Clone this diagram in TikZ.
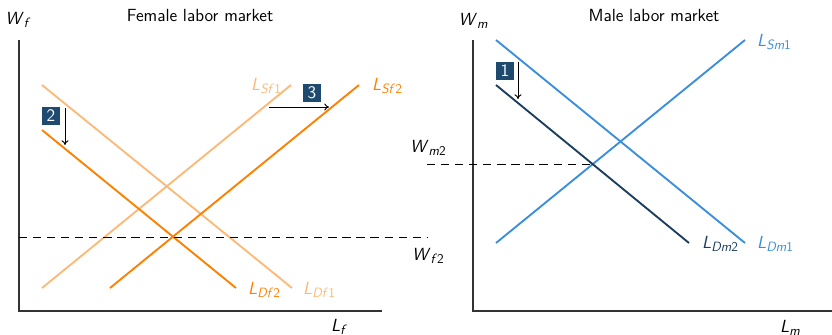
\documentclass[tikz,border=0pt]{standalone}
\usetikzlibrary{arrows.meta}
\definecolor{oLight}{HTML}{FDB978}
\definecolor{oDark}{HTML}{FF8000}
\definecolor{bLight}{HTML}{3A8EDB}
\definecolor{bDark}{HTML}{1B3D5E}
\definecolor{boxc}{HTML}{1F4A70}
\definecolor{axc}{HTML}{333333}
\newcommand{\vlab}[2]{\textit{#1}\raisebox{-0.45ex}{\fontsize{11.5}{12}\selectfont #2}}
\begin{document}
\begin{tikzpicture}[x=0.03cm,y=-0.03cm,
  every node/.style={font=\sffamily\fontsize{15}{17}\selectfont, inner sep=0pt},
  axis/.style={draw=axc, line width=0.9pt},
  curve/.style={line width=1.6pt},
  shiftarr/.style={-{To[length=4pt,width=6pt]}, line width=0.8pt},
  dashline/.style={dashed, dash pattern=on 7pt off 5pt, line width=0.8pt},
  numbox/.style={fill=boxc, text=white, minimum size=0.56cm, font=\sffamily\fontsize{15}{17}\selectfont},
  ]
\useasboundingbox (0,0) rectangle (832,335);
% ---------- female panel ----------
\coordinate (fO) at (19,311);
\coordinate (fY) at (19,40);
\coordinate (fX) at (382,311);
\draw[axis] (fY) -- (fO) -- (fX);
\node (fWf) at (18,20) {\vlab{W}{\textit{f}}};
\node (fLf) at (339,327) {\vlab{L}{\textit{f}}};
\node (ftitle) at (200,15) {Female labor market};
\coordinate (d1a) at (42,85);  \coordinate (d1b) at (292,288);
\coordinate (d2a) at (42,130); \coordinate (d2b) at (236,288);
\coordinate (s1a) at (42,288); \coordinate (s1b) at (291,85);
\coordinate (s2a) at (110,288);\coordinate (s2b) at (359,85);
\draw[curve, oLight] (d1a) -- (d1b);
\draw[curve, oLight] (s1a) -- (s1b);
\draw[curve, oDark] (d2a) -- (d2b);
\draw[curve, oDark] (s2a) -- (s2b);
\coordinate (wfl) at (19,237); \coordinate (wfr) at (428,237);
\draw[dashline] (wfl) -- (wfr);
\node[oLight] (lsf1) at (266,86) {\vlab{L}{\textit{Sf}1}};
\node[oDark] (lsf2) at (387,86) {\vlab{L}{\textit{Sf}2}};
\node[oDark] (ldf2) at (264,290) {\vlab{L}{\textit{Df}2}};
\node[oLight] (ldf1) at (319,290) {\vlab{L}{\textit{Df}1}};
\node[numbox] (b2) at (51,116) {2};
\coordinate (a2s) at (65,108); \coordinate (a2e) at (65,145);
\draw[shiftarr] (a2s) -- (a2e);
\node[numbox] (b3) at (312,93) {3};
\coordinate (a3s) at (269,107); \coordinate (a3e) at (329,107);
\draw[shiftarr] (a3s) -- (a3e);
% ---------- male panel ----------
\coordinate (mO) at (473,311);
\coordinate (mY) at (473,40);
\coordinate (mX) at (832,311);
\draw[axis] (mY) -- (mO) -- (mX);
\node (mWm) at (473,21) {\vlab{W}{\textit{m}}};
\node (mLm) at (790,328) {\vlab{L}{\textit{m}}};
\node (mtitle) at (654,15) {Male labor market};
\coordinate (ms1a) at (496,243); \coordinate (ms1b) at (745,40);
\coordinate (md1a) at (496,40);  \coordinate (md1b) at (745,243);
\coordinate (md2a) at (496,85);  \coordinate (md2b) at (689,243);
\draw[curve, bLight] (ms1a) -- (ms1b);
\draw[curve, bLight] (md1a) -- (md1b);
\draw[curve, bDark] (md2a) -- (md2b);
\coordinate (wml) at (427,164); \coordinate (wmr) at (593,164);
\draw[dashline] (wml) -- (wmr);
\node (wm2) at (428,148) {\vlab{W}{\textit{m}2}};
\node (wf2) at (428,256) {\vlab{W}{\textit{f}2}};
\node[bLight] (lsm1) at (774,42) {\vlab{L}{\textit{Sm}1}};
\node[bDark] (ldm2) at (720,244) {\vlab{L}{\textit{Dm}2}};
\node[bLight] (ldm1) at (775,244) {\vlab{L}{\textit{Dm}1}};
\node[numbox] (b1) at (505,71) {1};
\coordinate (a1s) at (518,62); \coordinate (a1e) at (518,99);
\draw[shiftarr] (a1s) -- (a1e);
\end{tikzpicture}
\end{document}
